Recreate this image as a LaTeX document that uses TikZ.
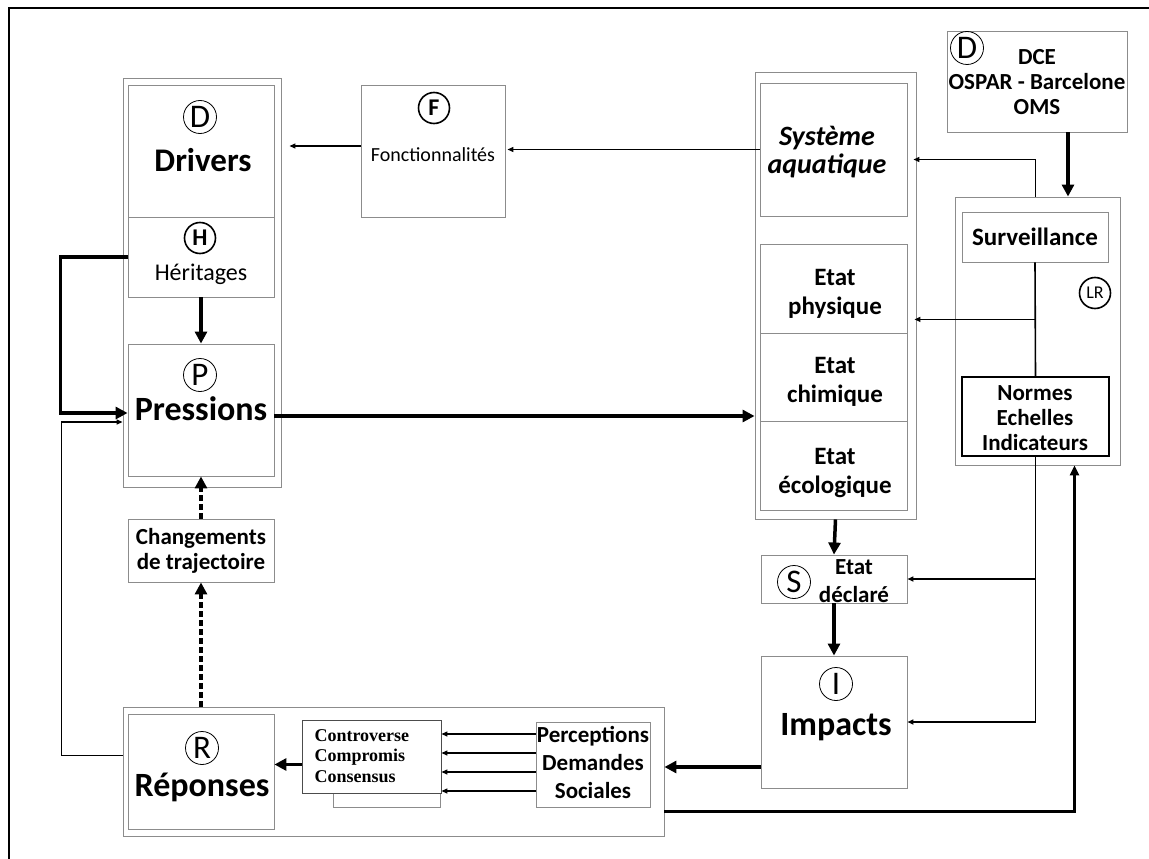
\documentclass[tikz,border=0pt]{standalone}
\usepackage{fontspec}
\setmainfont{Carlito}
\newfontfamily\serifbf{Liberation Serif}
\usetikzlibrary{arrows.meta, calc}
\tikzset{
  box/.style={draw=black!45, line width=0.9pt, minimum width=146pt, inner sep=0pt},
  grp/.style={draw=black!45, line width=0.9pt, inner sep=0pt},
  circ/.style={draw, circle, line width=0.8pt, minimum size=33pt, inner sep=0pt, font=\fontsize{33}{33}\selectfont},
  circb/.style={draw, circle, line width=1.6pt, minimum size=31pt, inner sep=0pt, font=\fontsize{24}{24}\selectfont\bfseries},
  lbl/.style={align=center, font=\fontsize{25}{29}\selectfont\bfseries},
  big/.style={font=\fontsize{34}{34}\selectfont\bfseries},
  thinarr/.style={line width=1.3pt, -{Triangle[length=6pt,width=5pt]}},
  thickarr/.style={line width=3.5pt, -{Triangle[length=12pt,width=12pt]}},
  dasharr/.style={thickarr, dash pattern=on 6pt off 3pt},
}
\begin{document}
\begin{tikzpicture}[x=1pt, y=-1pt]
    \useasboundingbox (0,0) rectangle (1149,859);
    \draw[line width=1.8pt] (9,859) -- (9,8) -- (1149,8);

    % D / H / P column
    \node[grp, minimum width=158pt, minimum height=409pt] (grpD) at (202,282.5) {};
    \node[box, minimum height=132pt] (drivers) at (201,151) {};
    \node[box, minimum height=80pt] (herit) at (201,257) {};
    \node[box, minimum height=132pt] (press) at (201,410) {};
    \node[circ] (cD) at (200,117) {D};
    \node[font=\fontsize{33}{33}\selectfont\bfseries] (tD) at (203,160) {Drivers};
    \node[circb] (cH) at (200,238) {H};
    \node[font=\fontsize{24}{24}\selectfont] (tH) at (201,274) {Héritages};
    \node[circ] (cP) at (200,375) {P};
    \node[big] (tP) at (201,409) {Pressions};

    % F
    \node[box, minimum width=144pt, minimum height=132pt] (fonc) at (433,151) {};
    \node[circb] (cF) at (434,108) {F};
    \node[font=\fontsize{20}{20}\selectfont] (tF) at (433,155) {Fonctionnalités};

    % aquatic system column
    \node[grp, minimum width=161pt, minimum height=447pt] (grpS) at (835.5,295.5) {};
    \node[box, minimum width=147pt, minimum height=133pt] (syst) at (833.5,149.5) {};
    \node[box, minimum width=147pt, minimum height=89pt] (phys) at (833.5,288.5) {};
    \node[box, minimum width=147pt, minimum height=88pt] (chim) at (833.5,377) {};
    \node[box, minimum width=147pt, minimum height=89pt] (ecol) at (833.5,465.5) {};
    \node[align=center, font=\fontsize{28}{28}\selectfont\bfseries\itshape] (tSyst) at (827,152) {Système\\aquatique};
    \node[lbl] (tPhys) at (835,294) {Etat\\physique};
    \node[lbl] (tChim) at (835,382) {Etat\\chimique};
    \node[lbl] (tEcol) at (835,473) {Etat\\écologique};

    % directives
    \node[box, minimum width=180pt, minimum height=101pt] (dce) at (1037,81.5) {};
    \node[circ] (cD2) at (967,48) {D};
    \node[align=center, font=\fontsize{23}{25}\selectfont\bfseries] (tDce) at (1037,82) {DCE\\OSPAR - Barcelone\\OMS};

    % LR
    \node[grp, minimum width=165pt, minimum height=268pt] (grpL) at (1037.5,331) {};
    \node[box, minimum height=50pt] (surv) at (1035,237) {};
    \node[box, draw=black, line width=1.3pt, minimum width=147pt, minimum height=79pt] (normes) at (1035.5,416.5) {};
    \node[lbl] (tSurv) at (1035,237) {Surveillance};
    \node[circb, font=\fontsize{18}{18}\selectfont] (cLR) at (1095,293) {LR};
    \node[align=center, font=\fontsize{23}{25}\selectfont\bfseries] (tNormes) at (1035,418) {Normes\\Echelles\\Indicateurs};

    % S and I
    \node[box, minimum height=48pt] (declare) at (834,579) {};
    \node[circ] (cS) at (794,582) {S};
    \node[lbl, font=\fontsize{23}{28}\selectfont\bfseries] (tDecl) at (854,581) {Etat\\déclaré};
    \node[box, minimum height=132pt] (impacts) at (834,722) {};
    \node[circ] (cI) at (836,684) {I};
    \node[big] (tI) at (836,727) {Impacts};

    % R
    \node[box, minimum height=63pt] (chang) at (201,550.5) {};
    \node[lbl, font=\fontsize{23}{25}\selectfont\bfseries] (tChang) at (201,551) {Changements\\de trajectoire};
    \node[grp, minimum width=541pt, minimum height=129pt] (grpR) at (393.5,771.5) {};
    \node[box, minimum height=115pt] (repon) at (201,771.5) {};
    \node[circ] (cR) at (202,748) {R};
    \node[big] (tR) at (202,787) {Réponses};
    \node[box, minimum width=107pt, minimum height=82pt] (contro2) at (386.5,766) {};
    \node[box, draw=black!70, fill=white, minimum width=139pt, minimum height=73pt] (contro) at (371.5,756.5) {};
    \node[align=left, anchor=west, font=\fontsize{18}{20.5}\selectfont\serifbf\bfseries] (tContro) at (311,756) {Controverse\\Compromis\\Consensus};
    \node[box, minimum width=114pt, minimum height=85pt] (percep) at (593,764.5) {};
    \node[lbl, font=\fontsize{23}{28}\selectfont\bfseries] (tPercep) at (593,762) {Perceptions\\Demandes\\Sociales};

    % connectors
    \draw[thinarr, shorten >=8pt] ([yshift=5pt]fonc.west) -- ([yshift=5pt]fonc.west -| grpD.east);
    \draw[thinarr, shorten >=2pt] (syst.west) -- (syst.west -| fonc.east);
    \draw[thickarr] (herit.south) -- (press.north);
    \draw[thickarr] (herit.west) -- ++(-67pt,0) |- ([yshift=-3pt]press.west);
    \coordinate (lp) at ([yshift=-12pt]press.west);
    \draw[thinarr] ([yshift=16pt]grpR.west) -- ++(-61pt,0) |- (lp -| grpD.west);
    \draw[thickarr] ([yshift=-6pt]press.east) -- ([yshift=-6pt]press.east -| grpS.west);
    \draw[thickarr] ([xshift=31pt]dce.south) -- ([xshift=31pt]dce.south |- grpL.north);
    \draw[line width=1.6pt] (surv.south) -- (normes.north);
    \coordinate (j1) at ($(surv.south)!0.5!(normes.north)$);
    \draw[thinarr, shorten >=-2pt] (j1) -- (j1 -| grpS.east);
    \draw[thinarr, shorten >=-3pt] ([xshift=-2pt]grpL.north) |- ([yshift=-10pt]syst.east -| grpS.east);
    \draw[thickarr] (grpS.south) -- (declare.north);
    \draw[thickarr] (declare.south) -- (impacts.north);
    \draw[thinarr, line width=1.6pt] (normes.south) |- (impacts.east);
    \draw[thinarr, line width=1.6pt] (normes.south |- declare.east) -- (declare.east);
    \draw[thickarr] ([yshift=-45pt]impacts.west) -- ([yshift=-45pt]impacts.west -| grpR.east);
    \foreach \dy in {30.5, 11.5, -7.5, -26.5}
        \draw[thinarr] ([yshift=\dy pt]percep.west) -- ([yshift=\dy pt]percep.west -| contro.east);
    \draw[thickarr] ([yshift=-8pt]contro.west) -- ([yshift=-8pt]contro.west -| repon.east);
    \draw[dasharr] (repon.north |- grpR.north) -- (chang.south);
    \draw[dasharr] (chang.north) -- (press.south);
    \draw[line width=2.4pt, -{Triangle[length=10pt,width=9pt]}] ([yshift=-40pt]grpR.east) -| ([xshift=37pt]grpL.south);
\end{tikzpicture}
\end{document}
